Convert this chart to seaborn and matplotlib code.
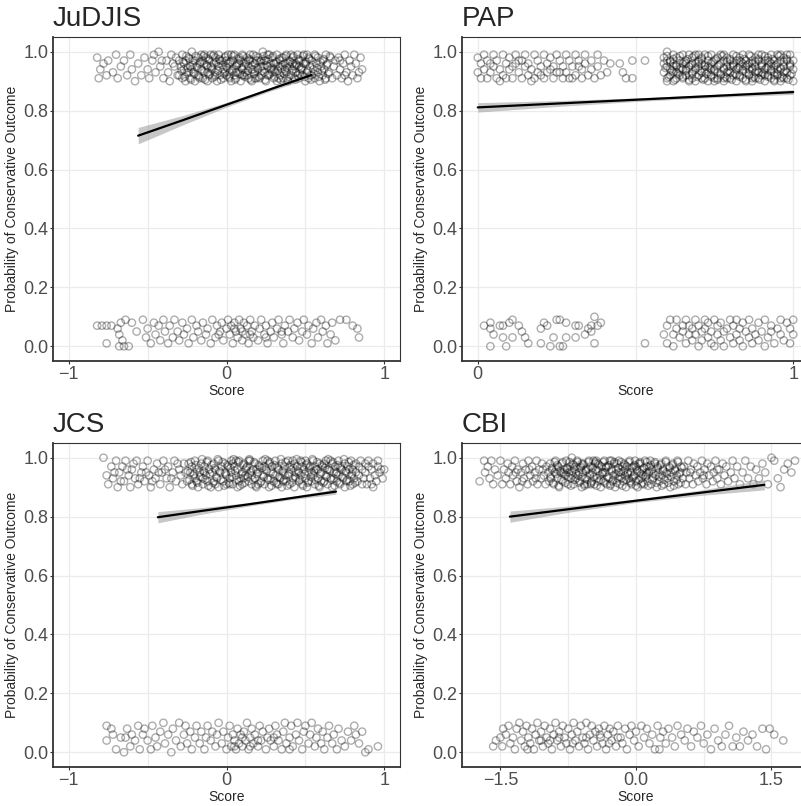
import numpy as np
import pandas as pd
import matplotlib
matplotlib.use("Agg")
import matplotlib.pyplot as plt
from matplotlib.ticker import FixedLocator, FixedFormatter
import seaborn as sns

# jittered points (score, outcome)
judjis_top = [
    (-.82, .98), (-.81, .91), (-.80, .94), (-.78, .96), (-.76, .92), (-.75, .97), (-.72, .93), (-.70, .99),
    (-.69, .91), (-.67, .95), (-.65, .97), (-.63, .92), (-.61, .99), (-.60, .94), (-.58, .90), (-.56, .96),
    (-.54, .92), (-.52, .98), (-.50, .94), (-.49, .91), (-.47, .97), (-.45, .93), (-.43, 1.0), (-.42, .95),
    (-.40, .91), (-.38, .97), (-.37, .93), (-.35, .99), (-.33, .95), (-.31, .92), (-.46, .99), (-.41, .97),
    (-.36, .90), (-.34, .96), (-.32, .98),
    (-.30, .97), (-.30, .92), (-.29, .95), (-.28, .99), (-.28, .91), (-.27, .94), (-.26, .97), (-.26, .90), (-.25, .93), (-.24, .98),
    (-.23, .95), (-.23, .91), (-.22, 1.0), (-.21, .93), (-.21, .97), (-.20, .90), (-.19, .95), (-.18, .98), (-.18, .92), (-.17, .96),
    (-.16, .94), (-.16, .99), (-.15, .91), (-.14, .96), (-.14, .93), (-.13, .98), (-.12, .90), (-.12, .95), (-.11, .97), (-.11, .92),
    (-.10, .99), (-.09, .94), (-.09, .91), (-.08, .96), (-.07, .93), (-.07, .98), (-.06, .90), (-.05, .95), (-.05, .99), (-.04, .92),
    (-.03, .97), (-.02, .94), (-.02, .91), (-.01, .98), (0, .95), (0, .92), (.01, .99), (.02, .93), (.02, .96), (.03, .90),
    (.04, .97), (.04, .94), (.05, .99), (.06, .91), (.06, .95), (.07, .93), (.08, .98), (.08, .96), (.09, .90), (.10, .94),
    (.10, .99), (.11, .92), (.12, .96), (.12, .93), (.13, .98), (.14, .91), (.14, .95), (.15, .97), (.16, .94), (.16, .90),
    (.17, .99), (.18, .93), (.18, .96), (.19, .91), (.20, .98), (.20, .94), (.21, .97), (.22, .92), (.22, .95), (.23, 1.0),
    (.24, .93), (.24, .97), (.25, .90), (.26, .95), (.26, .99), (.27, .92), (.28, .96), (.28, .94), (.29, .98), (.30, .91),
    (.30, .96), (.31, .93), (.32, .99), (.32, .90), (.33, .95), (.34, .97), (.34, .92), (.35, .94), (.36, .98), (.36, .91),
    (.37, .96), (.38, .93), (.38, .99), (.39, .90), (.40, .95), (.40, .97), (.41, .92), (.42, .94), (.42, .98), (.43, .91),
    (.44, .96), (.44, .93), (.45, .99), (.46, .91), (.46, .95), (.47, .97), (.48, .92), (.48, .94), (.49, .99), (.50, .90),
    (.50, .96), (.51, .93), (.52, .98), (.52, .91), (.53, .95), (.54, .97), (.54, .92), (.55, .94), (.56, .99), (.56, .91),
    (.57, .96), (.58, .93), (.58, .98), (.59, .90), (.60, .95), (.61, .97), (.61, .92), (.62, .94), (.63, .99), (.63, .91),
    (.64, .96), (.65, .93), (.66, .98), (.67, .91), (.68, .95), (.69, .97), (.70, .92),
    (-.27, .96), (-.24, .93), (-.20, .97), (-.17, .91), (-.14, .99), (-.10, .95), (-.07, .92), (-.04, .97), (-.01, .93), (.01, .96),
    (.03, .99), (.05, .92), (.07, .96), (.09, .97), (.11, .95), (.13, .92), (.15, .99), (.17, .94), (.19, .97), (.21, .91),
    (.23, .95), (.25, .97), (.27, .99), (.29, .93), (.31, .96), (.33, .91), (.35, .98), (.37, .94), (.39, .96), (.41, .99),
    (.43, .95), (.45, .92), (.47, .94), (.49, .96), (.51, .99), (.53, .92), (-.22, .94), (-.15, .97), (-.08, .99), (0, .97),
    (.06, .93), (.14, .97), (.22, .97), (.30, .94), (.38, .91), (.46, .97), (.02, .91), (.10, .92), (.18, .91), (.26, .92),
    (-.12, .93), (-.05, .96), (.34, .95), (.42, .96),
    (.71, .98), (.72, .94), (.73, .91), (.74, .96), (.75, .99), (.76, .93), (.77, .90), (.78, .97), (.79, .95), (.80, .92),
    (.81, .99), (.82, .96), (.84, .93), (.85, .98), (.86, .94), (.83, .91), (.72, .97), (.75, .92),
]
judjis_fill = [
    (-.285, .935), (-.275, .965), (-.265, .915), (-.255, .985), (-.245, .945), (-.235, .975), (-.225, .905), (-.215, .955),
    (-.205, .925), (-.195, .985), (-.185, .945), (-.175, .915), (-.165, .965), (-.155, .935), (-.145, .985), (-.135, .905),
    (-.125, .955), (-.115, .975), (-.105, .925), (-.095, .945), (-.085, .985), (-.075, .915), (-.065, .965), (-.055, .935),
    (-.045, .975), (-.035, .905), (-.025, .955), (-.015, .925), (-.005, .985), (.005, .945), (.015, .915), (.025, .965),
    (.035, .935), (.045, .985), (.055, .905), (.065, .955), (.075, .975), (.085, .925), (.095, .945), (.105, .985),
    (.115, .915), (.125, .965), (.135, .935), (.145, .975), (.155, .905), (.165, .955), (.175, .925), (.185, .985),
    (.195, .945), (.205, .915), (.215, .965), (.225, .935), (.235, .985), (.245, .905), (.255, .955), (.265, .975),
    (.275, .925), (.285, .945), (.295, .985), (.305, .915), (.315, .965), (.325, .935), (.335, .975), (.345, .905),
    (.355, .955), (.365, .925), (.375, .985), (.385, .945), (.395, .915), (.405, .965), (.415, .935), (.425, .985),
    (.435, .905), (.445, .955), (.455, .975), (.465, .925), (.475, .945), (.485, .985), (.495, .915), (.505, .965),
    (.515, .935), (.525, .975), (.535, .905), (.545, .955), (.555, .925), (.565, .985), (.575, .945), (.585, .915),
    (.595, .965), (.605, .935), (.615, .975), (.625, .905), (.635, .955), (.645, .925), (.655, .985),
]
judjis_bottom = [
    (-.82, .07), (-.79, .07), (-.76, .07), (-.73, .07), (-.76, .01), (-.69, .06), (-.68, .04), (-.67, .08), (-.66, .02), (-.64, .09),
    (-.68, 0), (-.65, 0), (-.62, 0), (-.60, .08), (-.57, .05), (-.53, .09), (-.51, .03), (-.50, .06), (-.48, .01), (-.46, .08),
    (-.45, .04), (-.43, .07), (-.42, .02), (-.40, .09), (-.39, .05), (-.37, .01), (-.36, .07), (-.34, .03), (-.33, .09), (-.31, .05),
    (-.30, .02), (-.28, .08), (-.27, .04), (-.25, .06), (-.24, .01), (-.22, .09), (-.21, .03), (-.19, .07), (-.18, .05), (-.16, .02),
    (-.15, .08), (-.13, .04), (-.12, .06), (-.10, .01), (-.09, .09), (-.07, .03), (-.06, .07), (-.04, .05), (-.03, .08), (-.02, .02),
    (0, .06), (.01, .09), (.02, .04), (.03, .07), (.04, .01), (.05, .08), (.06, .05), (.07, .03), (.08, .09), (.09, .06),
    (.10, .02), (.11, .08), (.12, .04), (.13, .07), (.14, .01), (.15, .09), (.16, .05), (.17, .03), (.18, .07), (.20, .02),
    (.21, .06), (.22, .09), (.24, .04), (.25, .07), (.26, .01), (.28, .05), (.29, .08), (.30, .03), (.32, .06), (.33, .09),
    (.35, .04), (.36, .01), (.37, .07), (.39, .05), (.40, .09), (.42, .03), (.43, .06), (.45, .08), (.46, .02), (.48, .05),
    (.49, .09), (.51, .04), (.52, .07), (.54, .01), (.55, .06), (.57, .08), (.58, .03), (.60, .09), (.61, .05), (.63, .07),
    (.64, .01), (.66, .04), (.67, .08), (.69, .02), (.72, .09), (.76, .09), (.80, .07), (.84, .03), (.83, .06), (.05, .06),
    (.10, .05), (-.05, .04), (.15, .04), (.25, .03), (.35, .05),
]
pap_top = [
    (0, .93), (0, .98), (.01, .91), (.01, .96), (.02, .99), (.02, .94), (.03, .91), (.03, .97), (.04, .93), (.05, .99),
    (.05, .95), (.06, .91), (.06, .97), (.07, .94), (.08, .99), (.08, .92), (.09, .96), (.09, .91), (.10, .98), (.10, .94),
    (.11, .91), (.12, .96), (.12, .99), (.13, .93), (.13, .97), (.14, .91), (.15, .95), (.15, .99), (.16, .92), (.16, .96),
    (.17, .94), (.18, .99), (.18, .91), (.19, .97), (.19, .93), (.20, .95), (.21, .99), (.21, .91), (.22, .96), (.22, .93),
    (.23, .98), (.24, .91), (.24, .95), (.25, .99), (.25, .93), (.26, .97), (.27, .91), (.27, .95), (.28, .99), (.28, .93),
    (.29, .97), (.30, .91), (.30, .95), (.31, .99), (.31, .92), (.32, .97), (.33, .94), (.33, .91), (.34, .99), (.34, .96),
    (.35, .92), (.36, .97), (.36, .94), (.37, .91), (.38, .99), (.38, .95), (.39, .92), (.40, .97), (.41, .93), (.42, .96),
    (.04, .96), (.07, .90), (.11, .95), (.14, .97), (.17, .90), (.20, .92), (.23, .94), (.26, .93), (.29, .91), (.32, .95),
    (.45, .96), (.46, .93), (.47, .91), (.49, .97), (.49, .91), (.53, .97),
    (.59, .93), (.59, .98), (.60, .91), (.60, .95), (.60, 1.0), (.61, .92), (.61, .97), (.61, .94), (.59, .96), (.60, .90),
    (.62, .99), (.62, .93), (.62, .96), (.63, .91), (.63, .95), (.63, .98), (.64, .92), (.64, .97), (.64, .94), (.62, .90),
    (.65, .96), (.65, .99), (.65, .91), (.66, .94), (.66, .97), (.66, .92), (.67, .99), (.67, .95), (.67, .90), (.66, .96),
    (.68, .93), (.68, .98), (.68, .91), (.69, .96), (.69, .94), (.69, .99), (.70, .92), (.70, .97), (.70, .95), (.69, .90),
    (.71, .98), (.71, .93), (.71, .96), (.72, .91), (.72, .95), (.72, .99), (.73, .93), (.73, .97), (.73, .90), (.72, .94),
    (.74, .96), (.74, .92), (.74, .99), (.75, .94), (.75, .97), (.75, .91), (.76, .98), (.76, .95), (.76, .93), (.75, .90),
    (.77, .96), (.77, .92), (.77, .99), (.78, .94), (.78, .97), (.78, .91), (.79, .98), (.79, .95), (.79, .93), (.78, .90),
    (.80, .97), (.80, .93), (.80, .91), (.81, .99), (.81, .95), (.81, .92), (.82, .97), (.82, .94), (.82, .90), (.81, .96),
    (.83, .98), (.83, .92), (.83, .95), (.84, .91), (.84, .96), (.84, .99), (.85, .93), (.85, .97), (.85, .90), (.84, .94),
    (.86, .96), (.86, .92), (.86, .99), (.87, .94), (.87, .97), (.87, .91), (.88, .98), (.88, .95), (.88, .93), (.87, .90),
    (.89, .97), (.89, .93), (.89, .91), (.90, .99), (.90, .95), (.90, .92), (.91, .97), (.91, .94), (.91, .90), (.90, .96),
    (.92, .98), (.92, .92), (.92, .95), (.93, .91), (.93, .96), (.93, .99), (.94, .93), (.94, .97), (.94, .90), (.93, .94),
    (.95, .96), (.95, .92), (.95, .99), (.96, .94), (.96, .97), (.96, .91), (.97, .98), (.97, .95), (.97, .93), (.96, .90),
    (.98, .97), (.98, .93), (.98, .91), (.99, .99), (.99, .95), (.99, .92), (1.0, .97), (1.0, .94), (1.0, .90), (.99, .96),
    (.60, .97), (.63, .93), (.65, .94), (.67, .92), (.70, .99), (.71, .91), (.73, .95), (.76, .91), (.78, .99), (.80, .95),
    (.82, .92), (.85, .95), (.86, .94), (.88, .91), (.89, .99), (.91, .92), (.92, .97), (.94, .95), (.95, .94), (.97, .91),
    (.98, .99), (.62, .95), (.68, .96), (.74, .94), (.79, .91), (.83, .97), (.87, .96), (.90, .93), (.94, .92), (.96, .99),
]
pap_fill = [
    (.595, .945), (.600, .985), (.605, .915), (.610, .965), (.615, .935), (.620, .975), (.625, .905), (.630, .955),
    (.635, .925), (.640, .985), (.645, .945), (.650, .915), (.655, .965), (.660, .935), (.665, .975), (.670, .905),
    (.675, .955), (.680, .925), (.685, .985), (.690, .945), (.695, .915), (.700, .965), (.705, .935), (.710, .975),
    (.715, .905), (.720, .955), (.725, .925), (.730, .985), (.735, .945), (.740, .915), (.745, .965), (.750, .935),
    (.755, .975), (.760, .905), (.765, .955), (.770, .925), (.775, .985), (.780, .945), (.785, .915), (.790, .965),
    (.795, .935), (.800, .975), (.805, .905), (.810, .955), (.815, .925), (.820, .985), (.825, .945), (.830, .915),
    (.835, .965), (.840, .935), (.845, .975), (.850, .905), (.855, .955), (.860, .925), (.865, .985), (.870, .945),
    (.875, .915), (.880, .965), (.885, .935), (.890, .975), (.895, .905), (.900, .955), (.905, .925), (.910, .985),
    (.915, .945), (.920, .915), (.925, .965), (.930, .935), (.935, .975), (.940, .905), (.945, .955), (.950, .925),
    (.955, .985), (.960, .945), (.965, .915), (.970, .965), (.975, .935), (.980, .975), (.985, .905), (.990, .955),
    (.995, .925),
]
pap_bottom = [
    (.02, .07), (.04, .08), (.04, .06), (.05, .04), (.04, 0), (.07, .07), (.08, .07), (.08, .03), (.09, 0), (.10, .08),
    (.11, .09), (.11, .03), (.13, .07), (.14, .05), (.15, .03), (.16, .01), (.20, .06), (.20, .01), (.21, .08), (.22, .07),
    (.23, 0), (.24, .03), (.25, .09), (.26, .09), (.26, 0), (.27, 0), (.28, .08), (.28, .03), (.31, .07), (.31, .03),
    (.32, .07), (.34, .04), (.35, .06), (.36, .05), (.37, .01), (.37, .10), (.38, .07), (.39, .08), (.36, .07), (.53, .01),
    (.59, .04), (.60, .01), (.60, .07), (.61, .09), (.62, .04), (.62, 0), (.63, .06), (.63, .09), (.64, .03), (.65, .07),
    (.65, .05), (.66, .01), (.66, .09), (.67, .04), (.67, .07), (.68, .02), (.68, .06), (.69, .09), (.69, .04), (.70, 0),
    (.70, .07), (.71, .05), (.71, .02), (.72, .09), (.72, .06), (.73, .03), (.73, .08), (.74, .01), (.74, .05), (.75, .09),
    (.75, 0), (.76, .04), (.76, .07), (.77, .02), (.77, .08), (.78, .05), (.78, 0), (.79, .06), (.80, .03), (.80, .09),
    (.81, .01), (.81, .07), (.82, .04), (.82, .09), (.83, .02), (.83, .06), (.84, 0), (.84, .08), (.85, .05), (.86, .03),
    (.86, .09), (.87, .01), (.87, .06), (.88, .04), (.89, .08), (.89, .02), (.90, .05), (.91, .09), (.91, 0), (.92, .03),
    (.93, .07), (.93, .05), (.94, .01), (.95, .06), (.96, .09), (.96, .04), (.97, .02), (.98, .08), (.99, .06), (1.0, .04),
    (1.0, .09), (.99, .01),
]
jcs_top = [
    (-.78, 1.0), (-.76, .94), (-.75, .91), (-.73, .97), (-.72, .93), (-.70, .99), (-.69, .90), (-.68, .95), (-.66, .97), (-.65, .92),
    (-.64, .99), (-.62, .94), (-.61, .90), (-.60, .96), (-.58, .93), (-.57, .99), (-.56, .91), (-.54, .95), (-.53, .97), (-.52, .92),
    (-.50, .99), (-.49, .94), (-.48, .90), (-.46, .96), (-.45, .93), (-.44, .98), (-.42, .91), (-.41, .95), (-.40, .99), (-.38, .93),
    (-.37, .97), (-.36, .90), (-.34, .95), (-.33, .99), (-.32, .92), (-.30, .96), (-.29, .94), (-.28, .91), (-.27, .98), (-.26, .95),
    (-.63, .96), (-.59, .98), (-.55, .93), (-.51, .95), (-.47, .92), (-.43, .95), (-.39, .96), (-.35, .93), (-.31, .98), (-.71, .95),
    (-.67, .92),
    (-.25, .92), (-.24, .98), (-.23, .95), (-.22, .91), (-.22, .97), (-.21, .94), (-.20, .99), (-.19, .92), (-.19, .96), (-.18, .90),
    (-.17, .95), (-.16, .98), (-.15, .93), (-.15, .91), (-.14, .97), (-.13, .94), (-.12, .99), (-.12, .92), (-.11, .96), (-.10, .90),
    (-.09, .95), (-.08, .98), (-.08, .92), (-.07, .96), (-.06, .93), (-.05, .99), (-.05, .90), (-.04, .95), (-.03, .97), (-.02, .92),
    (-.01, .98), (0, .94), (0, .91), (.01, .97), (.02, .93), (.03, .99), (.03, .95), (.04, .91), (.05, .97), (.06, .94),
    (.07, .90), (.07, .96), (.08, .99), (.09, .93), (.10, .95), (.10, .91), (.11, .98), (.12, .94), (.13, .97), (.14, .92),
    (.15, .95), (.15, .99), (.16, .91), (.17, .96), (.18, .93), (.18, .98), (.19, .90), (.20, .95), (.21, .97), (.22, .92),
    (.23, .99), (.23, .94), (.24, .91), (.25, .96), (.26, .93), (.27, .98), (.27, .90), (.28, .95), (.29, .97), (.30, .92),
    (.31, .99), (.31, .94), (.32, .91), (.33, .96), (.34, .93), (.35, .98), (.35, .90), (.36, .95), (.37, .97), (.38, .92),
    (.39, .99), (.39, .94), (.40, .91), (.41, .96), (.42, .93), (.43, .98), (.43, .90), (.44, .95), (.45, .97), (.46, .92),
    (.47, .99), (.47, .94), (.48, .91), (.49, .96), (.50, .93), (.51, .98), (.51, .90), (.52, .95), (.53, .97), (.54, .92),
    (.55, .99), (.55, .94), (.56, .91), (.57, .96), (.58, .93), (.59, .98), (.59, .90), (.60, .95), (.61, .97), (.62, .92),
    (.63, .99), (.63, .94), (.64, .91), (.65, .96), (.66, .93), (.67, .98), (.67, .90), (.68, .95), (.69, .97), (.70, .92),
    (.71, .99), (.71, .94), (.72, .91), (.73, .96), (.74, .93), (.75, .98), (.75, .90), (.76, .95), (.77, .97), (.78, .92),
    (.79, .99), (.79, .94), (.80, .91), (.80, .96), (.81, .93), (.82, .98), (.82, .95),
    (-.20, .93), (-.14, .95), (-.07, .91), (-.01, .95), (.04, .98), (.08, .92), (.12, .96), (.16, .94), (.20, .91), (.24, .97),
    (.28, .93), (.32, .97), (.36, .92), (.40, .97), (.44, .93), (.48, .97), (.52, .92), (.56, .97), (.60, .92), (.64, .96),
    (.68, .93), (.72, .97), (.76, .92), (.78, .96), (.02, .91), (.06, .99), (.11, .93), (.14, .99), (.19, .96), (.26, .99),
    (.33, .91), (.37, .94), (.42, .99), (.46, .95), (.50, .99), (.54, .95), (.58, .96), (.62, .98), (.66, .99), (.70, .95),
    (.83, .92), (.84, .97), (.84, .94), (.85, .99), (.86, .91), (.86, .96), (.87, .93), (.88, .98), (.88, .95), (.89, .91),
    (.90, .97), (.90, .99), (.91, .93), (.92, .96), (.93, .90), (.93, .98), (.94, .94), (.95, .92), (.96, .97), (.96, .99),
    (.97, .95), (.98, .96), (.99, .93), (1.0, .96), (.92, .91),
]
jcs_fill = [
    (-.245, .955), (-.235, .925), (-.225, .985), (-.215, .905), (-.205, .945), (-.195, .975), (-.185, .915), (-.175, .965),
    (-.165, .935), (-.155, .995), (-.145, .955), (-.135, .925), (-.125, .985), (-.115, .905), (-.105, .945), (-.095, .975),
    (-.085, .915), (-.075, .965), (-.065, .935), (-.055, .995), (-.045, .955), (-.035, .925), (-.025, .985), (-.015, .905),
    (-.005, .945), (.005, .975), (.015, .915), (.025, .965), (.035, .935), (.045, .995), (.055, .955), (.065, .925),
    (.075, .985), (.085, .905), (.095, .945), (.105, .975), (.115, .915), (.125, .965), (.135, .935), (.145, .995),
    (.155, .955), (.165, .925), (.175, .985), (.185, .905), (.195, .945), (.205, .975), (.215, .915), (.225, .965),
    (.235, .935), (.245, .995), (.255, .955), (.265, .925), (.275, .985), (.285, .905), (.295, .945), (.305, .975),
    (.315, .915), (.325, .965), (.335, .935), (.345, .995), (.355, .955), (.365, .925), (.375, .985), (.385, .905),
    (.395, .945), (.405, .975), (.415, .915), (.425, .965), (.435, .935), (.445, .995), (.455, .955), (.465, .925),
    (.475, .985), (.485, .905), (.495, .945), (.505, .975), (.515, .915), (.525, .965), (.535, .935), (.545, .995),
    (.555, .955), (.565, .925), (.575, .985), (.585, .905), (.595, .945), (.605, .975), (.615, .915), (.625, .965),
    (.635, .935), (.645, .995), (.655, .955), (.665, .925), (.675, .985), (.685, .905), (.695, .945), (.705, .975),
    (.715, .915), (.725, .965), (.735, .935), (.745, .995), (.755, .955), (.765, .925), (.775, .985), (.785, .905),
    (.795, .945), (.805, .975), (.815, .915),
]
jcs_bottom = [
    (-.76, .09), (-.73, .08), (-.76, .04), (-.72, .06), (-.70, .01), (-.67, .05), (-.65, 0), (-.64, .05), (-.63, .08), (-.61, .02),
    (-.60, .06), (-.58, .04), (-.56, .09), (-.55, .01), (-.53, .06), (-.52, .08), (-.50, .04), (-.48, .01), (-.47, .09), (-.45, .05),
    (-.44, .02), (-.42, .07), (-.40, .10), (-.39, .03), (-.37, .06), (-.35, 0), (-.34, .08), (-.32, .04), (-.30, .10), (-.29, .02),
    (-.27, .06), (-.26, .09), (-.25, .03), (-.23, .07), (-.22, .01), (-.20, .05), (-.19, .09), (-.17, .03), (-.16, .07), (-.14, .01),
    (-.13, .05), (-.12, .09), (-.10, .04), (-.09, .07), (-.07, .02), (-.06, .06), (-.05, .10), (-.03, .03), (-.02, .07), (0, .01),
    (.01, .05), (.02, .09), (.03, .02), (.04, .06), (.05, .04), (.06, .01), (.07, .08), (.08, .03), (.09, .06), (.10, .02),
    (.11, .07), (.12, .04), (.13, .10), (.14, .01), (.15, .05), (.16, .08), (.17, .03), (.18, .06), (.20, .02), (.21, .09),
    (.22, .04), (.23, .07), (.25, .01), (.26, .05), (.27, .08), (.28, .04), (.30, .02), (.31, .09), (.32, .06), (.33, .04),
    (.35, .01), (.36, .07), (.37, .10), (.38, .03), (.40, .05), (.41, .09), (.42, .02), (.44, .06), (.45, .10), (.46, .04),
    (.48, .01), (.49, .07), (.50, .09), (.52, .03), (.53, .06), (.54, .10), (.56, .02), (.57, .05), (.58, .08), (.60, .03),
    (.61, .07), (.62, .01), (.64, .05), (.65, .09), (.67, .03), (.68, .06), (.70, .01), (.71, .08), (.73, .04), (.75, .02),
    (.77, .07), (.79, .04), (.81, .09), (.82, .06), (.84, .03), (.86, .07), (.88, 0), (.90, .01), (.96, .02), (.10, .05),
    (.20, .04), (.05, .02), (.15, .02), (.30, .05), (.40, .01),
]
cbi_top = [
    (-1.73, .92), (-1.68, .99), (-1.67, .95), (-1.64, .97), (-1.62, .93), (-1.60, .99), (-1.58, .91), (-1.56, .96), (-1.53, .94), (-1.50, .99),
    (-1.48, .91), (-1.46, .96),
    (-1.44, .93), (-1.42, .98), (-1.41, .95), (-1.39, .91), (-1.37, .97), (-1.36, .94), (-1.34, .99), (-1.32, .92), (-1.31, .96), (-1.29, .90),
    (-1.27, .95), (-1.25, .98), (-1.24, .93), (-1.22, .96), (-1.20, .91), (-1.19, .99), (-1.17, .94), (-1.15, .97), (-1.14, .92), (-1.12, .95),
    (-1.10, .99), (-1.09, .91), (-1.07, .96), (-1.05, .93), (-1.04, .98), (-1.02, .94), (-1.00, .91), (-.99, .97), (-.97, .95), (-.96, .92),
    (-1.33, .95), (-1.26, .92), (-1.18, .96), (-1.11, .93), (-1.03, .96),
    (-.95, .98), (-.94, .93), (-.93, .96), (-.91, .91), (-.90, .95), (-.89, .99), (-.87, .93), (-.86, .97), (-.85, .90), (-.83, .95),
    (-.82, .98), (-.81, .92), (-.79, .96), (-.78, .94), (-.77, .99), (-.75, .91), (-.74, .95), (-.73, .97), (-.72, .93), (-.71, 1.0),
    (-.70, .94), (-.69, .91), (-.67, .97), (-.66, .93), (-.65, .99), (-.63, .95), (-.62, .92), (-.61, .97), (-.60, .90), (-.59, .95),
    (-.58, .98), (-.56, .93), (-.55, .96), (-.54, .91), (-.52, .99), (-.51, .94), (-.50, .97), (-.49, .92), (-.48, .95), (-.47, .99),
    (-.46, .91), (-.44, .96), (-.43, .93), (-.42, .98), (-.40, .94), (-.39, .90), (-.38, .97), (-.37, .95), (-.36, .92), (-.35, .99),
    (-.34, .95), (-.32, .91), (-.31, .97), (-.30, .93), (-.29, .99), (-.27, .96), (-.26, .92), (-.25, .94), (-.24, .98), (-.23, .90),
    (-.22, .96), (-.20, .93), (-.19, .99), (-.18, .91), (-.17, .95), (-.15, .97), (-.14, .92), (-.13, .98), (-.12, .94), (-.11, .90),
    (-.10, .97), (-.08, .93), (-.07, .99), (-.06, .95), (-.05, .91), (-.03, .97), (-.02, .94), (-.01, .99), (0, .92), (.01, .96),
    (.02, .90), (.04, .95), (.05, .98), (.06, .93), (.07, .96), (.09, .91), (.10, .99), (.11, .94), (.12, .97), (.13, .92),
    (.14, .95), (.16, .99), (.17, .91), (.18, .96), (.19, .93), (.21, .98), (.22, .94), (.23, .90), (.24, .97), (.25, .95),
    (.26, .92), (.28, .98), (.29, .94), (.30, .96), (.31, .91), (.33, .99), (.34, .95), (.35, .93), (.37, .97), (.38, .90),
    (.39, .95), (.41, .98), (.42, .92), (.43, .96), (.45, .94), (.46, .99), (.47, .91), (.49, .95), (.50, .97), (.52, .93),
    (-.76, .96), (-.70, .98), (-.64, .94), (-.57, .91), (-.53, .96), (-.45, .98), (-.41, .92), (-.33, .97), (-.28, .91), (-.21, .98),
    (-.16, .93), (-.09, .95), (-.04, .93), (.03, .98), (.08, .94), (.15, .97), (-.88, .96), (-.80, .95), (-.68, .96), (-.60, .98),
    (-.50, .91), (-.44, .99), (-.36, .95), (-.27, .99), (-.19, .95), (-.12, .96), (-.06, .92), (0, .97), (.06, .91), (.12, .95),
    (.53, .97), (.55, .91), (.56, .95), (.58, .99), (.59, .93), (.61, .96), (.63, .91), (.64, .98), (.66, .94), (.68, .97),
    (.69, .92), (.71, .95), (.73, .99), (.74, .93), (.76, .96), (.78, .91), (.79, .98), (.81, .94), (.83, .97), (.85, .92),
    (.86, .95), (.88, .99), (.90, .93), (.92, .96), (.94, .91), (.96, .98), (.98, .94), (1.00, .97), (1.02, .92), (1.05, .95),
    (1.07, .99), (1.09, .93), (.60, .95), (.75, .94), (.90, .96),
    (1.12, .97), (1.15, .91), (1.18, .95), (1.21, .99), (1.24, .93), (1.27, .97), (1.30, .91), (1.33, .96), (1.36, .93), (1.40, .98),
    (1.43, .95), (1.46, .91), (1.50, 1.0), (1.53, .99), (1.57, .93), (1.60, .90), (1.64, .96), (1.68, .98), (1.72, .95), (1.76, .99),
]
cbi_fill = [
    (-.945, .935), (-.930, .965), (-.915, .915), (-.900, .985), (-.885, .945), (-.870, .975), (-.855, .905), (-.840, .955),
    (-.825, .925), (-.810, .985), (-.795, .945), (-.780, .915), (-.765, .965), (-.750, .935), (-.735, .985), (-.720, .905),
    (-.705, .955), (-.690, .975), (-.675, .925), (-.660, .945), (-.645, .985), (-.630, .915), (-.615, .965), (-.600, .935),
    (-.585, .975), (-.570, .905), (-.555, .955), (-.540, .925), (-.525, .985), (-.510, .945), (-.495, .915), (-.480, .965),
    (-.465, .935), (-.450, .985), (-.435, .905), (-.420, .955), (-.405, .975), (-.390, .925), (-.375, .945), (-.360, .985),
    (-.345, .915), (-.330, .965), (-.315, .935), (-.300, .975), (-.285, .905), (-.270, .955), (-.255, .925), (-.240, .985),
    (-.225, .945), (-.210, .915), (-.195, .965), (-.180, .935), (-.165, .985), (-.150, .905), (-.135, .955), (-.120, .975),
    (-.105, .925), (-.090, .945), (-.075, .985), (-.060, .915), (-.045, .965), (-.030, .935), (-.015, .975), (0, .905),
    (.015, .955), (.030, .925), (.045, .985), (.060, .945), (.075, .915), (.090, .965), (.105, .935), (.120, .985),
    (.135, .905), (.150, .955), (.165, .975), (.180, .925), (.195, .945), (.210, .985), (.225, .915), (.240, .965),
    (.255, .935), (.270, .975), (.285, .905), (.300, .955), (.315, .925), (.330, .985), (.345, .945), (.360, .915),
    (.375, .965), (.390, .935), (.405, .975), (.420, .905), (.435, .955), (.450, .925), (.465, .985), (.480, .945),
    (.495, .915), (.510, .965),
]
cbi_bottom = [
    (-1.58, .02), (-1.55, .04), (-1.50, .05), (-1.48, .02), (-1.47, .08), (-1.44, .06), (-1.41, .09), (-1.39, .03), (-1.36, .05), (-1.34, .01),
    (-1.32, .08), (-1.29, .10), (-1.27, .04), (-1.25, .07), (-1.23, .02), (-1.21, .09), (-1.19, .05), (-1.17, .03), (-1.15, .08), (-1.13, .01),
    (-1.11, .06), (-1.09, .10), (-1.07, .04), (-1.05, .07), (-1.03, .02), (-1.01, .09), (-.99, .05), (-.97, .03), (-.95, .08), (-.93, .01),
    (-.91, .06), (-.89, .10), (-.87, .04), (-.85, .07), (-.83, .02), (-.81, .09), (-.79, .05), (-.77, .03), (-.75, .08), (-.73, .01),
    (-.71, .06), (-.69, .10), (-.67, .04), (-.65, .07), (-.63, .02), (-.61, .09), (-.59, .05), (-.57, .03), (-.55, .10), (-.53, .01),
    (-.51, .06), (-.49, .09), (-.47, .04), (-.45, .07), (-.43, .02), (-.41, .08), (-.39, .05), (-.37, .03), (-.35, .09), (-.33, .01),
    (-.31, .06), (-.29, .08), (-.27, .04), (-.25, .07), (-.22, .02), (-.20, .09), (-.17, .05), (-.15, .03), (-.12, .08), (-.10, .01),
    (-.07, .06), (-.05, .09), (-.02, .04), (0, .07), (.03, .02), (.06, .09), (.09, .05), (.12, .08), (.15, .03), (.18, .06),
    (.21, .01), (.24, .09), (.27, .05), (.30, .07), (.33, .03), (.36, .08), (.40, .05), (.43, .02), (.46, .09), (.50, .06),
    (.54, .04), (.57, .08), (.61, .02), (.64, .07), (.68, .05), (.72, .09), (.75, .03), (.79, .06), (.83, .01), (.87, .08),
    (.91, .04), (.95, .02), (.99, .06), (1.03, .09), (1.07, .02), (1.11, .05), (1.15, .02), (1.19, .07), (1.24, .04), (1.29, .06),
    (1.34, .02), (1.40, .08), (1.44, .01), (1.48, .08), (1.53, .06), (1.63, .04), (-.95, .04), (-.85, .05), (-.70, .03), (-.55, .05),
    (-.40, .06), (-.30, .03), (-.20, .05), (.26, .01), (-1.20, .01), (-1.05, .04),
]

# fitted line and half-width of its grey band
judjis_line_x = [-0.56, -0.28, 0.0, 0.27, 0.54]
judjis_line_y = [0.715, 0.767, 0.820, 0.871, 0.921]
judjis_band = [0.028, 0.016, 0.008, 0.006, 0.009]
pap_line_x = [0.0, 0.25, 0.5, 0.75, 1.0]
pap_line_y = [0.811, 0.824, 0.837, 0.850, 0.863]
pap_band = [0.016, 0.010, 0.006, 0.005, 0.008]
jcs_line_x = [-0.435, -0.15, 0.13, 0.41, 0.694]
jcs_line_y = [0.798, 0.820, 0.841, 0.863, 0.885]
jcs_band = [0.019, 0.011, 0.006, 0.005, 0.009]
cbi_line_x = [-1.395, -0.70, 0.0, 0.71, 1.421]
cbi_line_y = [0.800, 0.827, 0.854, 0.881, 0.908]
cbi_band = [0.019, 0.010, 0.006, 0.009, 0.017]

titles = ["JuDJIS", "PAP", "JCS", "CBI"]
x_ticks = [[-1, 0, 1], [0, 1], [-1, 0, 1], [-1.5, 0.0, 1.5]]
x_tick_labels = [["\u22121", "0", "1"], ["0", "1"], ["\u22121", "0", "1"], ["\u22121.5", "0.0", "1.5"]]
x_minor = [[-0.5, 0.5], [0.5], [-0.5, 0.5], [-0.75, 0.75]]
x_limits = [(-1.1, 1.1), (-0.05, 1.05), (-1.1, 1.1), (-1.925, 1.915)]
y_ticks = [0.0, 0.2, 0.4, 0.6, 0.8, 1.0]
y_tick_labels = ["0.0", "0.2", "0.4", "0.6", "0.8", "1.0"]

sns.set_style("white")
plt.rcParams["font.family"] = ["Liberation Sans", "DejaVu Sans"]

fig = plt.figure(figsize=(8.01, 8.06), dpi=100)
boxes = [(53, 37), (462, 37), (53, 443), (462, 443)]
panel_w, panel_h = 347, 324

panels = [
    (judjis_top + judjis_fill, judjis_bottom, judjis_line_x, judjis_line_y, judjis_band),
    (pap_top + pap_fill, pap_bottom, pap_line_x, pap_line_y, pap_band),
    (jcs_top + jcs_fill, jcs_bottom, jcs_line_x, jcs_line_y, jcs_band),
    (cbi_top + cbi_fill, cbi_bottom, cbi_line_x, cbi_line_y, cbi_band),
]

for i, (top, bottom, lx, ly, band) in enumerate(panels):
    px, py = boxes[i]
    ax = fig.add_axes([px / 801, 1 - (py + panel_h) / 806, panel_w / 801, panel_h / 806])
    pts = pd.DataFrame(top + bottom, columns=["score", "outcome"])

    sns.scatterplot(data=pts, x="score", y="outcome", ax=ax, marker="o", s=28,
                    facecolors="none", edgecolor="black", linewidth=1.0,
                    alpha=0.32, legend=False, zorder=2)

    lx = np.array(lx)
    ly = np.array(ly)
    band = np.array(band)
    ax.fill_between(lx, ly - band, ly + band, color="#999999", alpha=0.55, lw=0, zorder=3)
    sns.lineplot(x=lx, y=ly, ax=ax, color="black", linewidth=1.6, zorder=4)

    ax.set_xlim(*x_limits[i])
    ax.set_ylim(-0.05, 1.05)
    ax.xaxis.set_major_locator(FixedLocator(x_ticks[i]))
    ax.xaxis.set_major_formatter(FixedFormatter(x_tick_labels[i]))
    ax.xaxis.set_minor_locator(FixedLocator(x_minor[i]))
    ax.yaxis.set_major_locator(FixedLocator(y_ticks))
    ax.yaxis.set_major_formatter(FixedFormatter(y_tick_labels))

    ax.set_axisbelow(True)
    ax.grid(which="both", axis="x", color="#EBEBEB", linewidth=0.9)
    ax.grid(which="major", axis="y", color="#EBEBEB", linewidth=0.9)
    ax.tick_params(which="major", length=2, width=0.8, color="#333333",
                   labelsize=13, labelcolor="#4D4D4D", pad=1.5, bottom=True, left=True)
    ax.tick_params(which="minor", length=0)

    for side, sp in ax.spines.items():
        sp.set_color("#333333")
        sp.set_linewidth(1.3 if side in ("left", "bottom") else 0.8)

    ax.set_xlabel("Score", fontsize=10, labelpad=1)
    ax.set_ylabel("Probability of Conservative Outcome", fontsize=10, labelpad=3)
    ax.set_title(titles[i], loc="left", fontsize=20, pad=8)

fig.savefig("out.png", dpi=100)
